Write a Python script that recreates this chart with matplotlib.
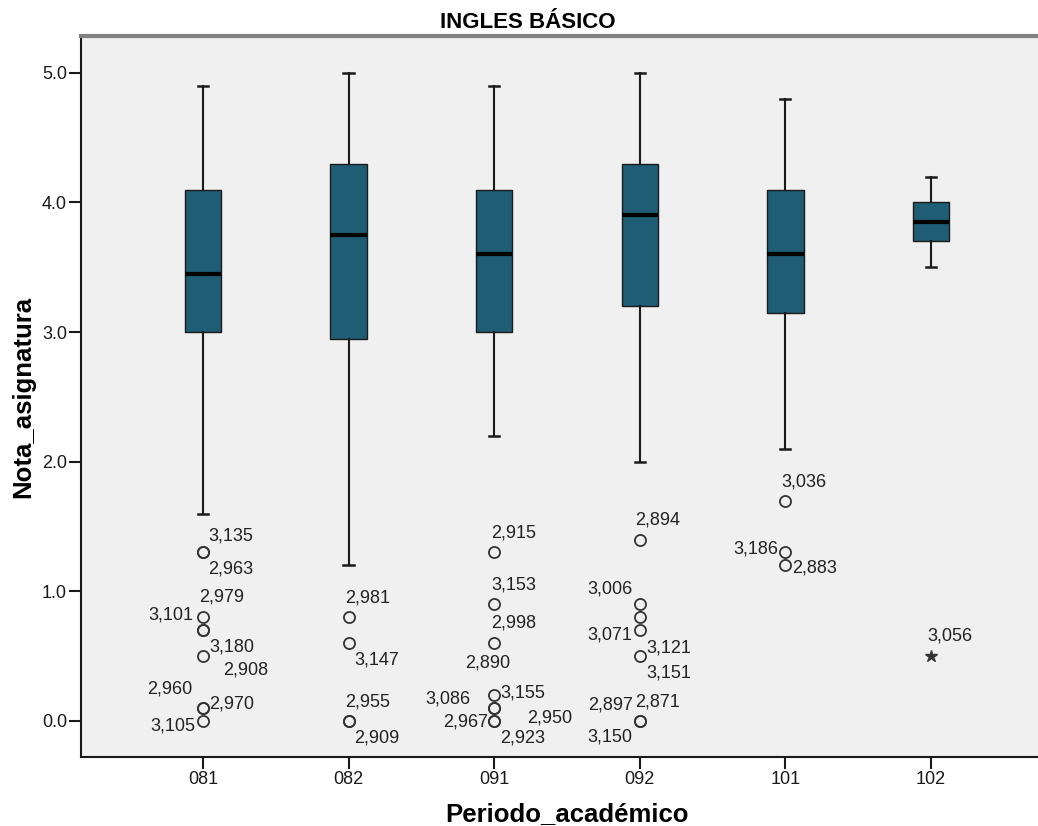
import matplotlib
matplotlib.use("Agg")
import matplotlib.pyplot as plt

plt.rcParams["font.family"] = ["Liberation Sans", "DejaVu Sans"]

# Box statistics per academic period (grades 0-5)
periods = ["081", "082", "091", "092", "101", "102"]
whisker_low = [1.6, 1.2, 2.2, 2.0, 2.1, 3.5]
q1 = [3.0, 2.95, 3.0, 3.2, 3.15, 3.7]
medians = [3.45, 3.75, 3.6, 3.9, 3.6, 3.85]
q3 = [4.1, 4.3, 4.1, 4.3, 4.1, 4.0]
whisker_high = [4.9, 5.0, 4.9, 5.0, 4.8, 4.2]

# Outliers (repeated values = several cases at the same grade)
outliers = [
    [1.3, 1.3, 0.8, 0.7, 0.7, 0.5, 0.1, 0.1, 0.0],
    [0.8, 0.6, 0.0, 0.0],
    [1.3, 0.9, 0.6, 0.2, 0.1, 0.1, 0.0, 0.0],
    [1.4, 0.9, 0.8, 0.7, 0.5, 0.0, 0.0],
    [1.7, 1.3, 1.2],
    [],
]
# Extreme values
extremes = [[], [], [], [], [], [0.5]]

# Case labels: (period index, grade, case id)
case_labels = [
    (0, 1.3, "3,135"), (0, 1.3, "2,963"), (0, 0.8, "2,979"), (0, 0.7, "3,101"),
    (0, 0.5, "3,180"), (0, 0.5, "2,908"), (0, 0.1, "2,960"), (0, 0.1, "2,970"),
    (0, 0.0, "3,105"),
    (1, 0.8, "2,981"), (1, 0.6, "3,147"), (1, 0.0, "2,955"), (1, 0.0, "2,909"),
    (2, 1.3, "2,915"), (2, 0.9, "3,153"), (2, 0.6, "2,998"), (2, 0.6, "2,890"),
    (2, 0.2, "3,155"), (2, 0.1, "3,086"), (2, 0.0, "2,967"), (2, 0.0, "2,950"),
    (2, 0.0, "2,923"),
    (3, 1.4, "2,894"), (3, 0.9, "3,006"), (3, 0.7, "3,071"), (3, 0.5, "3,121"),
    (3, 0.5, "3,151"), (3, 0.0, "2,897"), (3, 0.0, "2,871"), (3, 0.0, "3,150"),
    (4, 1.7, "3,036"), (4, 1.3, "3,186"), (4, 1.2, "2,883"),
    (5, 0.5, "3,056"),
]
# label placement in pixels relative to the point: (dx, dy, ha)
label_offsets = [
    (5, 16, "left"), (5, -17, "left"), (-4, 20, "left"), (-10, 15, "right"),
    (6, 9, "left"), (20, -14, "left"), (-11, 19, "right"), (6, 4, "left"),
    (-8, -5, "right"),
    (-3, 19, "left"), (6, -17, "left"), (-3, 19, "left"), (6, -17, "left"),
    (-3, 19, "left"), (-3, 19, "left"), (-3, 20, "left"), (-29, -20, "left"),
    (6, 2, "left"), (-24, 9, "right"), (-6, -1, "right"), (33, 3, "left"),
    (6, -17, "left"),
    (-5, 20, "left"), (-7, 15, "right"), (-8, -5, "right"), (7, 8, "left"),
    (7, -17, "left"), (-7, 16, "right"), (-5, 19, "left"), (-7, -16, "right"),
    (-4, 19, "left"), (-7, 3, "right"), (7, -3, "left"),
    (-4, 20, "left"),
]

fig = plt.figure(figsize=(10.38, 8.26), dpi=100)
ax = fig.add_axes([0.078, 0.0835, 0.922, 0.873])
ax.set_facecolor("#f0f0f0")

stats = []
for i, p in enumerate(periods):
    stats.append({
        "label": p, "whislo": whisker_low[i], "q1": q1[i], "med": medians[i],
        "q3": q3[i], "whishi": whisker_high[i], "fliers": outliers[i],
    })

positions = list(range(1, len(periods) + 1))
ax.bxp(
    stats, positions=positions, widths=0.25, capwidths=0.07, patch_artist=True,
    boxprops=dict(facecolor="#1f5d74", edgecolor="#1a1a1a", linewidth=1.0),
    medianprops=dict(color="black", linewidth=3.0, solid_capstyle="butt"),
    whiskerprops=dict(color="#1a1a1a", linewidth=1.5),
    capprops=dict(color="#1a1a1a", linewidth=1.8),
    flierprops=dict(marker="o", markersize=8, markerfacecolor="none",
                    markeredgecolor="#333333", markeredgewidth=1.3),
)

for i, vals in enumerate(extremes):
    if vals:
        ax.plot([positions[i]] * len(vals), vals, linestyle="none", marker="*",
                markersize=9, color="#333333")

for (idx, val, txt), (dx, dy, ha) in zip(case_labels, label_offsets):
    ax.annotate(txt, xy=(positions[idx], val), xytext=(dx, dy),
                textcoords="offset pixels", ha=ha, va="center",
                fontsize=13, color="#222222")

ax.set_xlim(0.162, 6.735)
ax.set_ylim(-0.278, 5.285)
ax.set_xticks(positions)
ax.set_xticklabels(periods)
ax.set_yticks([0, 1, 2, 3, 4, 5])
ax.set_yticklabels(["0.0", "1.0", "2.0", "3.0", "4.0", "5.0"])
ax.tick_params(axis="both", direction="out", length=8.5, width=1.5,
               labelsize=13, colors="#1a1a1a", pad=1.5)

ax.spines["right"].set_visible(False)
ax.spines["top"].set_color("#808080")
ax.spines["top"].set_linewidth(3)
ax.spines["left"].set_color("#1a1a1a")
ax.spines["left"].set_linewidth(1.5)
ax.spines["bottom"].set_color("#1a1a1a")
ax.spines["bottom"].set_linewidth(1.5)

ax.set_xlabel("Periodo_académico", fontsize=18.5, fontweight="bold")
ax.xaxis.set_label_coords(0.508, -0.062)
ax.set_ylabel("Nota_asignatura", fontsize=18.5, fontweight="bold", labelpad=5)
fig.text(528 / 1038, 1 - 22 / 826, "INGLES BÁSICO", ha="center", va="center",
         fontsize=16, fontweight="bold",
         family=["Liberation Sans Narrow", "Liberation Sans", "DejaVu Sans"])

fig.savefig("out.png", dpi=100)
